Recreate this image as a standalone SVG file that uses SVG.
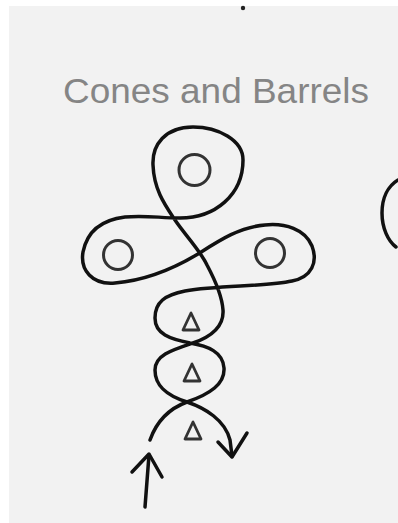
<svg xmlns="http://www.w3.org/2000/svg" width="398" height="523" viewBox="0 0 398 523">
<style>
.line{fill:none;stroke:#111;stroke-width:3.5;stroke-linecap:round;stroke-linejoin:round}
.ring{fill:none;stroke:#333;stroke-width:3}
.tri{fill:none;stroke:#333;stroke-width:2.8;stroke-linejoin:round}
.title{font-family:"Liberation Sans","DejaVu Sans",sans-serif;font-size:35px;fill:#858585}
</style>
<rect x="0" y="0" width="398" height="523" fill="#ffffff"/>
<rect x="9" y="6" width="389" height="517" fill="#f2f2f2"/>
<circle cx="243" cy="8" r="2.2" fill="#222"/>
<g id="title"><text class="title" x="63" y="103" textLength="306" lengthAdjust="spacingAndGlyphs">Cones and Barrels</text></g>
<g id="connectors">
<path class="line" d="M150,440 C156,423 168,409 187,402 C210,394 225,384 224,368 C223,352 208,346 190,343 C170,339 155,334 155,318 C155,302 165,295 185,291 C220,285 265,287 292,281 C312,277 318,262 312,246 C305,229 285,223 265,225 C240,227 220,240 198,254 C178,266 150,280 115,283 C92,285 80,270 83,252 C87,232 100,220 125,217 C145,215 160,218 180,218 C215,218 243,195 243,160 C243,140 218,127 193,127 C165,127 152,145 153,165 C154,190 165,205 175,220 C185,235 200,250 207,265 C215,280 222,295 223,310 C224,325 213,336 193,343 C172,350 155,355 155,370 C155,385 165,395 187,402 C205,408 225,420 230,440 L232,456"/>
<path class="line" d="M218,442 L232,457 L247,433"/>
<path class="line" d="M145,507 L149,455"/>
<path class="line" d="M132,472 L149,454 L162,477"/>
<path class="line" d="M398,180 C388,186 382,198 382,213 C382,228 388,241 396,247"/>
</g>
<g id="node-top"><circle class="ring" cx="194.5" cy="170" r="15.5"/></g>
<g id="node-left"><circle class="ring" cx="118" cy="255" r="14.5"/></g>
<g id="node-right"><circle class="ring" cx="270" cy="253" r="14.5"/></g>
<g id="node-tri1"><polygon class="tri" points="191,313 183,330 199,330"/></g>
<g id="node-tri2"><polygon class="tri" points="192,364 184,381 200,381"/></g>
<g id="node-tri3"><polygon class="tri" points="193,422 185,439 201,439"/></g>
</svg>
